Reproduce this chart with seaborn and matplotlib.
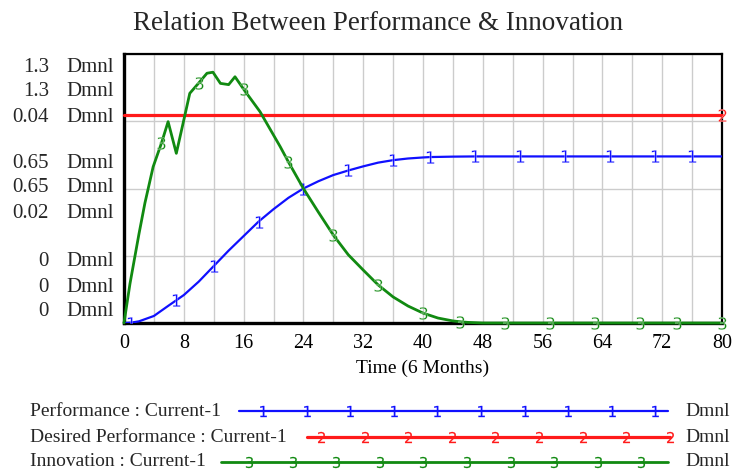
import numpy as np
import seaborn as sns
import matplotlib.pyplot as plt

# Performance : Current-1
perf_t = [0, 1, 2, 4, 6, 7, 8, 10, 12, 14, 16, 18, 20, 22, 24, 26, 28, 30, 32, 34,
          36, 38, 40, 41, 44, 47, 50, 53, 56, 59, 62, 65, 68, 71, 74, 76, 80]
perf = [0, 0.002, 0.008, 0.034, 0.085, 0.11, 0.135, 0.2, 0.275, 0.35, 0.42, 0.49,
        0.55, 0.605, 0.65, 0.685, 0.715, 0.737, 0.757, 0.775, 0.787, 0.795, 0.8,
        0.802, 0.804, 0.805, 0.805, 0.805, 0.805, 0.805, 0.805, 0.805, 0.805,
        0.805, 0.805, 0.805, 0.805]
perf_marks = [1, 7, 12, 18, 24, 30, 36, 41, 47, 53, 59, 65, 71, 76]

# Desired Performance : Current-1
desired_t = [0, 80]
desired = [0.031, 0.031]

# Innovation : Current-1
innov_t = [0, 0.8, 2, 2.8, 3.9, 5, 5.9, 7, 8.2, 8.8, 10, 11.1, 11.9, 12.9, 14,
           14.85, 16, 18.2, 20.9, 22, 24, 26, 28, 30, 32, 34, 36, 38, 40, 42, 44,
           45, 46, 48, 51, 57, 63, 69, 74, 80]
innov = [0, 0.19, 0.43, 0.58, 0.755, 0.868, 0.973, 0.82, 1.013, 1.11, 1.16, 1.207,
         1.212, 1.158, 1.152, 1.19, 1.13, 1.021, 0.852, 0.778, 0.65, 0.536, 0.425,
         0.33, 0.256, 0.184, 0.126, 0.082, 0.048, 0.024, 0.01, 0.006, 0.003, 0,
         0, 0, 0, 0, 0, 0]
innov_marks = [5, 10, 16, 22, 28, 34, 40, 45, 51, 57, 63, 69, 74, 80]

x_ticks = list(range(0, 81, 8))
y_label_rows = [["1.3", "1.3", "0.04"], ["0.65", "0.65", "0.02"], ["0", "0", "0"]]

BLUE = "#1010ff"
RED = "#ff1a1a"
GREEN = "#118a11"

sns.set_theme(style="white")
plt.rcParams["font.family"] = ["Liberation Serif", "DejaVu Serif"]

fig = plt.figure(figsize=(7.33, 4.70), dpi=100)
ax = fig.add_axes([124 / 733, 1 - 323 / 470, 598 / 733, 269 / 470])

# desired performance on its own scale (0 - 0.04)
sns.lineplot(x=desired_t, y=desired, ax=ax, color=RED, lw=2.3,
             marker="$2$", markersize=9, mew=0.2, markevery=[1], zorder=3,
             clip_on=False)
ax.set_xlim(0, 80)
ax.set_ylim(0, 0.04)
ax.set_xticks(range(0, 81, 4))
ax.set_xticklabels([str(v) if v in x_ticks else "" for v in range(0, 81, 4)],
                   fontsize=14.5, color="black")
ax.set_yticks(np.linspace(0, 0.04, 5))
ax.set_yticklabels([])
ax.tick_params(length=0, pad=8)
ax.grid(True, color="#cccccc", lw=1)
ax.set_xlabel("Time (6 Months)", fontsize=14, labelpad=5, color="black")
ax.set_ylabel("")
for side, w in [("left", 2.4), ("bottom", 2.4), ("top", 1.6), ("right", 1.6)]:
    ax.spines[side].set_visible(True)
    ax.spines[side].set_color("black")
    ax.spines[side].set_linewidth(w)

# performance and innovation share a 0 - 1.3 scale
axp = ax.twinx()
sns.lineplot(x=perf_t, y=perf, ax=axp, color=BLUE, lw=1.6,
             marker="$1$", markersize=9, mew=0.2,
             markevery=[perf_t.index(m) for m in perf_marks])
sns.lineplot(x=innov_t, y=innov, ax=axp, color=GREEN, lw=2.0,
             marker="$3$", markersize=9, mew=0.2, clip_on=False,
             markevery=[innov_t.index(m) for m in innov_marks])
axp.set_ylim(0, 1.3)
axp.set_xlim(0, 80)
axp.set_yticks([])
axp.set_ylabel("")
for s in axp.spines.values():
    s.set_visible(False)

# stacked Vensim-style axis labels
row_y = [[67, 92, 117], [163, 187, 214], [262, 287, 311]]
for labels, ys in zip(y_label_rows, row_y):
    for lab, yp in zip(labels, ys):
        fig.text(49 / 733, 1 - yp / 470, lab, ha="right", va="center", fontsize=15)
        fig.text(66 / 733, 1 - yp / 470, "Dmnl", ha="left", va="center", fontsize=15)

fig.text(378 / 733, 1 - 23 / 470, "Relation Between Performance & Innovation",
         ha="center", va="center", fontsize=19.5)

# legend block
lax = fig.add_axes([0, 0, 1, 85 / 470])
lax.set_xlim(0, 733)
lax.set_ylim(470, 385)
lax.axis("off")
legend_rows = [
    ("Performance : Current-1", BLUE, 411, 239, 668, 263, 10, "1", 1.6),
    ("Desired Performance : Current-1", RED, 437, 307, 670, 321, 9, "2", 2.3),
    ("Innovation : Current-1", GREEN, 462, 221, 668, 249, 10, "3", 2.0),
]
for name, col, yp, x0, x1, m0, n, digit, lw in legend_rows:
    lax.text(30, yp, name, ha="left", va="center", fontsize=14)
    lax.plot([x0, x1], [yp, yp], color=col, lw=lw)
    mx = m0 + 43.6 * np.arange(n)
    lax.plot(mx, [yp] * n, ls="none", marker=f"${digit}$", markersize=8,
             mew=0.1, color=col)
    lax.text(685, yp, "Dmnl", ha="left", va="center", fontsize=14)

fig.savefig("out.png", dpi=100)
